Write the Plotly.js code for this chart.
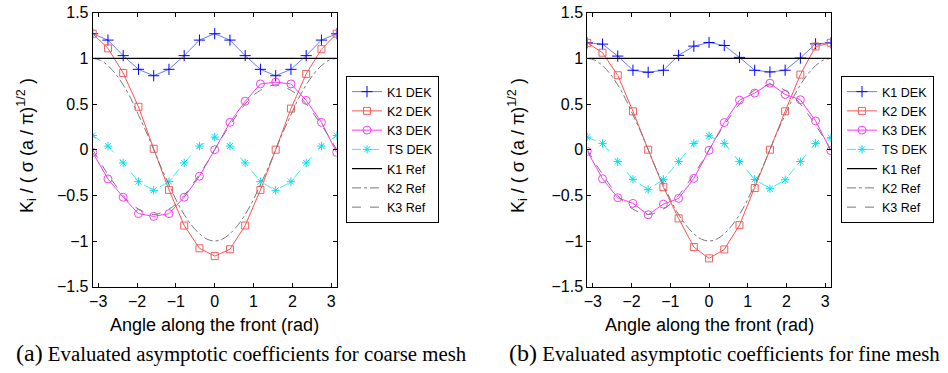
<!DOCTYPE html>
<html>
<head>
<meta charset="utf-8">
<script src="https://cdn.plot.ly/plotly-3.0.1.min.js"></script>
<style>html,body{margin:0;padding:0;background:#fff;}#chart{width:948px;height:373px;}</style>
</head>
<body>
<div id="chart"></div>
<script>
const theta = [-3.1416,-2.7489,-2.3562,-1.9635,-1.5708,-1.1781,-0.7854,-0.3927,0,0.3927,0.7854,1.1781,1.5708,1.9635,2.3562,2.7489,3.1416];
const thetaRef = [-3.1416,-2.9452,-2.7489,-2.5525,-2.3562,-2.1598,-1.9635,-1.7671,-1.5708,-1.3744,-1.1781,-0.9817,-0.7854,-0.5890,-0.3927,-0.1963,0,0.1963,0.3927,0.5890,0.7854,0.9817,1.1781,1.3744,1.5708,1.7671,1.9635,2.1598,2.3562,2.5525,2.7489,2.9452,3.1416];

const k1Ref = [1,1,1,1,1,1,1,1,1,1,1,1,1,1,1,1,1,1,1,1,1,1,1,1,1,1,1,1,1,1,1,1,1];
const k2Ref = [1,0.98,0.92,0.83,0.71,0.56,0.38,0.2,0,-0.2,-0.38,-0.56,-0.71,-0.83,-0.92,-0.98,-1,-0.98,-0.92,-0.83,-0.71,-0.56,-0.38,-0.2,0,0.2,0.38,0.56,0.71,0.83,0.92,0.98,1];
const k3Ref = [0,-0.14,-0.27,-0.39,-0.5,-0.59,-0.65,-0.69,-0.71,-0.69,-0.65,-0.59,-0.5,-0.39,-0.27,-0.14,0,0.14,0.27,0.39,0.5,0.59,0.65,0.69,0.71,0.69,0.65,0.59,0.5,0.39,0.27,0.14,0];

// (a) coarse mesh
const k1DekA = [1.27,1.20,1.03,0.88,0.81,0.88,1.03,1.20,1.27,1.20,1.03,0.88,0.81,0.88,1.03,1.20,1.27];
const k2DekA = [1.27,1.11,0.84,0.47,0.01,-0.44,-0.83,-1.08,-1.165,-1.09,-0.83,-0.44,0.0,0.45,0.83,1.10,1.27];
const k3DekA = [-0.03,-0.32,-0.52,-0.70,-0.73,-0.70,-0.52,-0.29,0.0,0.30,0.53,0.72,0.74,0.72,0.54,0.30,-0.03];
const tsDekA = [0.155,0.04,-0.145,-0.35,-0.445,-0.35,-0.145,0.04,0.138,0.04,-0.145,-0.35,-0.445,-0.35,-0.145,0.04,0.155];

// (b) fine mesh
const k1DekB = [1.17,1.156,1.025,0.87,0.848,0.87,1.033,1.134,1.174,1.141,1.011,0.87,0.851,0.87,1.004,1.159,1.17];
const k2DekB = [1.17,1.062,0.815,0.42,0,-0.41,-0.752,-1.066,-1.19,-1.092,-0.826,-0.42,0,0.42,0.822,1.13,1.17];
const k3DekB = [-0.018,-0.318,-0.526,-0.588,-0.712,-0.596,-0.533,-0.314,-0.007,0.297,0.543,0.62,0.728,0.605,0.547,0.315,-0.01];
const tsDekB = [0.138,0.069,-0.13,-0.325,-0.438,-0.325,-0.13,0.069,0.152,0.069,-0.13,-0.325,-0.427,-0.33,-0.13,0.069,0.131];

const names = ['K1 DEK','K2 DEK','K3 DEK','TS DEK','K1 Ref','K2 Ref','K3 Ref'];
const xTicks = [-3,-2,-1,0,1,2,3];
const yTicks = [-1.5,-1,-0.5,0,0.5,1,1.5];
const yTickText = ['\u22121.5','\u22121','\u22120.5','0','0.5','1','1.5'];
const yTitle = 'K<sub>i</sub> / ( \u03c3 (a / \u03c0)<sup>1/2</sup> )';
const xTitle = 'Angle along the front (rad)';
const capA = '<span style="font-size:24px">(a)</span> Evaluated asymptotic coefficients for coarse mesh';
const capB = '<span style="font-size:24px">(b)</span> Evaluated asymptotic coefficients for fine mesh';

function series(xa, ya, leg, dek) {
  const [k1, k2, k3, ts] = dek;
  return [
    {x: theta, y: k1, name: names[0], xaxis: xa, yaxis: ya, legend: leg, mode: 'lines+markers',
     line: {color: 'rgba(50,80,255,0.75)', width: 1},
     marker: {symbol: 'cross-thin-open', size: 8, color: '#0000ff', line: {width: 1, color: '#0000ff'}}},
    {x: theta, y: k2, name: names[1], xaxis: xa, yaxis: ya, legend: leg, mode: 'lines+markers',
     line: {color: '#ff5050', width: 1},
     marker: {symbol: 'square-open', size: 7, color: '#f06060', line: {width: 1}}},
    {x: theta, y: k3, name: names[2], xaxis: xa, yaxis: ya, legend: leg, mode: 'lines+markers',
     line: {color: '#ff33ff', width: 1},
     marker: {symbol: 'circle-open', size: 8, color: '#ee44ee', line: {width: 1}}},
    {x: theta, y: ts, name: names[3], xaxis: xa, yaxis: ya, legend: leg, mode: 'lines+markers',
     line: {color: '#40e5ee', width: 1, dash: 'dash'},
     marker: {symbol: 'asterisk-open', size: 7, color: '#00e0f0', line: {width: 1, color: '#00e0f0'}}},
    {x: thetaRef, y: k1Ref, name: names[4], xaxis: xa, yaxis: ya, legend: leg, mode: 'lines',
     line: {color: '#000000', width: 1.2}},
    {x: thetaRef, y: k2Ref, name: names[5], xaxis: xa, yaxis: ya, legend: leg, mode: 'lines',
     line: {color: '#777777', width: 1, dash: 'dashdot', shape: 'spline'}},
    {x: thetaRef, y: k3Ref, name: names[6], xaxis: xa, yaxis: ya, legend: leg, mode: 'lines',
     line: {color: '#777777', width: 1, dash: 'dash', shape: 'spline'}}
  ];
}

const data = [].concat(
  series('x', 'y', 'legend', [k1DekA, k2DekA, k3DekA, tsDekA]),
  series('x2', 'y2', 'legend2', [k1DekB, k2DekB, k3DekB, tsDekB])
);

const W = 948, H = 373;
const font = {family: 'Liberation Sans, Arial, sans-serif', size: 16, color: '#000'};
function xax(dom, anchor) {
  return {domain: dom, anchor: anchor, range: [-Math.PI, Math.PI], tickvals: xTicks, ticktext: xTicks.map(v => v < 0 ? '\u2212' + (-v) : '' + v),
    ticks: 'inside', ticklen: 4, tickcolor: '#000', showline: true, linecolor: '#000', linewidth: 1, mirror: 'ticks',
    showgrid: false, zeroline: false, tickfont: font, fixedrange: true};
}
function yax(anchor) {
  return {domain: [1 - 286.7 / H, 1 - 12.7 / H], anchor: anchor, range: [-1.5, 1.5], tickvals: yTicks, ticktext: yTickText,
    ticks: 'inside', ticklen: 4, tickcolor: '#000', showline: true, linecolor: '#000', linewidth: 1, mirror: 'ticks',
    showgrid: false, zeroline: false, tickfont: font, fixedrange: true};
}
const legStyle = (x) => ({x: x, y: 1 - 149.5 / H, xanchor: 'left', yanchor: 'middle', bordercolor: '#000', borderwidth: 1,
  bgcolor: '#fff', font: {family: 'Liberation Sans, Arial, sans-serif', size: 12.5, color: '#000'}, itemwidth: 30, tracegroupgap: 0});

const axA = [92.7 / W, 336.7 / W], axB = [587.3 / W, 830.8 / W];
const serif = {family: 'Liberation Serif, Times New Roman, serif', size: 20.8, color: '#000'};
const layout = {
  width: W, height: H, margin: {l: 0, r: 0, t: 0, b: 0}, paper_bgcolor: '#fff', plot_bgcolor: '#fff',
  showlegend: true,
  xaxis: xax(axA, 'y'), yaxis: yax('x'),
  xaxis2: xax(axB, 'y2'), yaxis2: yax('x2'),
  legend: legStyle(346 / W), legend2: legStyle(841 / W),
  annotations: [
    {text: yTitle, xref: 'paper', yref: 'paper', x: 26 / W, y: 1 - 146 / H, textangle: -90, showarrow: false, xanchor: 'center', yanchor: 'middle', font: {family: font.family, size: 18, color: '#000'}},
    {text: yTitle, xref: 'paper', yref: 'paper', x: 517 / W, y: 1 - 146 / H, textangle: -90, showarrow: false, xanchor: 'center', yanchor: 'middle', font: {family: font.family, size: 18, color: '#000'}},
    {text: xTitle, xref: 'paper', yref: 'paper', x: (axA[0] + axA[1]) / 2, y: 1 - 325 / H, showarrow: false, xanchor: 'center', yanchor: 'middle', font: {family: font.family, size: 18, color: '#000'}},
    {text: xTitle, xref: 'paper', yref: 'paper', x: (axB[0] + axB[1]) / 2, y: 1 - 325 / H, showarrow: false, xanchor: 'center', yanchor: 'middle', font: {family: font.family, size: 18, color: '#000'}},
    {text: capA, xref: 'paper', yref: 'paper', x: 241 / W, y: 1 - 353 / H, showarrow: false, xanchor: 'center', yanchor: 'middle', font: serif},
    {text: capB, xref: 'paper', yref: 'paper', x: 724.5 / W, y: 1 - 353 / H, showarrow: false, xanchor: 'center', yanchor: 'middle', font: serif}
  ]
};
Plotly.newPlot('chart', data, layout, {staticPlot: true, displayModeBar: false});
</script>
</body>
</html>
